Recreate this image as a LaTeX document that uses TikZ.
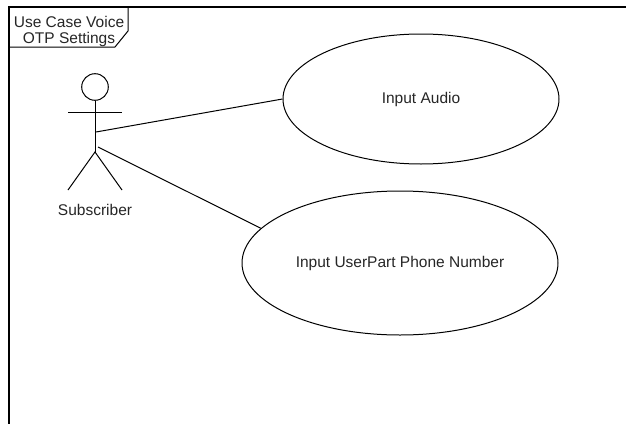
\documentclass[tikz,border=0pt]{standalone}
\usepackage{fontspec}
\setmainfont{Liberation Sans}
\usetikzlibrary{shapes.geometric}
\begin{document}
\begin{tikzpicture}[x=1pt,y=-1pt, line width=1pt,
  txt/.style={font=\fontsize{15.5}{16}\selectfont, inner sep=0pt, text=black!85},
  usecase/.style={draw, ellipse, inner sep=0pt, txt},
  framestyle/.style={line width=1.8pt},
  actorpart/.style={line width=1pt}]
\useasboundingbox (0,0) rectangle (626,423);
\begin{scope}
  \clip (0,0) rectangle (626,423);
  \draw[framestyle] (9,440) -- (9,7) -- (640,7);
\end{scope}
% frame label pentagon
\draw (9,47) -- (115,47) -- (128,31) -- (128,7);
\node[txt, align=center] (title) at (69,31) {Use Case Voice\\OTP Settings};
% use cases
\node[usecase, minimum width=276pt, minimum height=130pt] (e1) at (421,99) {Input Audio};
\node[usecase, minimum width=316pt, minimum height=144pt] (e2) at (400,263) {Input UserPart Phone Number};
% actor
\node[draw, circle, minimum size=26.6pt, inner sep=0pt, actorpart] (head) at (95,87) {};
\coordinate (hip) at (95,152);
\coordinate (armL) at (68,112);
\coordinate (armR) at (122,112);
\coordinate (legL) at (68,190);
\coordinate (legR) at (122,190);
\draw[actorpart] (head.south) -- (hip);
\draw[actorpart] (armL) -- (armR);
\draw[actorpart] (legL) -- (hip) -- (legR);
\node[txt] (actor) at (95,210) {Subscriber};
% connectors
\coordinate (a1) at (96,132);
\coordinate (a2) at (98,147);
\draw (a1) -- (e1.west);
\draw (a2) -- (e2.166);
\end{tikzpicture}
\end{document}
